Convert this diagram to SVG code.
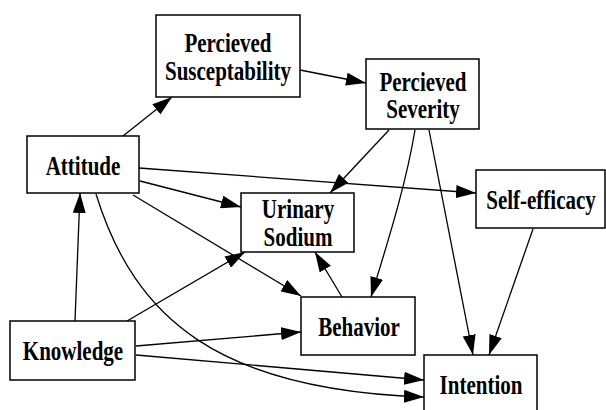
<svg xmlns="http://www.w3.org/2000/svg" width="606" height="410" viewBox="0 0 606 410">
<style>
.box{fill:#fff;stroke:#000;stroke-width:1.5}
.lbl{font-family:"Liberation Serif","Times New Roman",serif;font-weight:bold;font-size:21px;text-anchor:middle;fill:#000}
.edge{fill:none;stroke:#000;stroke-width:1.3;marker-end:url(#ah)}
</style>
<defs>
<marker id="ah" markerUnits="userSpaceOnUse" markerWidth="20" markerHeight="13" viewBox="0 0 20 13" refX="20" refY="6.5" orient="auto">
<path d="M0,0 L20,6.5 L0,13 z" fill="#000"/>
</marker>
</defs>
<rect width="606" height="410" fill="#fff"/>
<g id="connectors">
<path class="edge" d="M123,136 L172,97"/>
<path class="edge" d="M300,70 L366,83"/>
<path class="edge" d="M139,168 L476,193"/>
<path class="edge" d="M140,181 L241,207"/>
<path class="edge" d="M133,195 L301,296"/>
<path class="edge" d="M96,194 C135,320 220,390 424,397"/>
<path class="edge" d="M75,321 L80,193"/>
<path class="edge" d="M127,321 L245,252"/>
<path class="edge" d="M136,346 L301,332"/>
<path class="edge" d="M136,355 L424,380"/>
<path class="edge" d="M389,130 L330,193"/>
<path class="edge" d="M415,130 C405,190 385,250 371,297"/>
<path class="edge" d="M429,130 L473,355"/>
<path class="edge" d="M533,229 L489,355"/>
<path class="edge" d="M342,297 L315,252"/>
</g>
<g id="susceptability">
<rect class="box" x="156" y="15" width="144" height="82"/>
<text class="lbl" transform="translate(228,52) scale(1,1.25)">Percieved</text>
<text class="lbl" transform="translate(228,80) scale(1,1.25)">Susceptability</text>
</g>
<g id="severity">
<rect class="box" x="366" y="59" width="113" height="70"/>
<text class="lbl" transform="translate(423,91) scale(1,1.25)">Percieved</text>
<text class="lbl" transform="translate(423,118) scale(1,1.25)">Severity</text>
</g>
<g id="attitude">
<rect class="box" x="27" y="136" width="112" height="57"/>
<text class="lbl" transform="translate(83,175) scale(1,1.25)">Attitude</text>
</g>
<g id="self-efficacy">
<rect class="box" x="476" y="170" width="129" height="58"/>
<text class="lbl" transform="translate(541,209) scale(1,1.25)">Self-efficacy</text>
</g>
<g id="urinary-sodium">
<rect class="box" x="241" y="193" width="113" height="59"/>
<text class="lbl" transform="translate(298,218) scale(1,1.25)">Urinary</text>
<text class="lbl" transform="translate(298,246) scale(1,1.25)">Sodium</text>
</g>
<g id="behavior">
<rect class="box" x="301" y="297" width="114" height="58"/>
<text class="lbl" transform="translate(359,336) scale(1,1.25)">Behavior</text>
</g>
<g id="knowledge">
<rect class="box" x="10" y="321" width="125" height="59"/>
<text class="lbl" transform="translate(73,360) scale(1,1.25)">Knowledge</text>
</g>
<g id="intention">
<rect class="box" x="424" y="355" width="113" height="58"/>
<text class="lbl" transform="translate(481,394) scale(1,1.25)">Intention</text>
</g>
</svg>
